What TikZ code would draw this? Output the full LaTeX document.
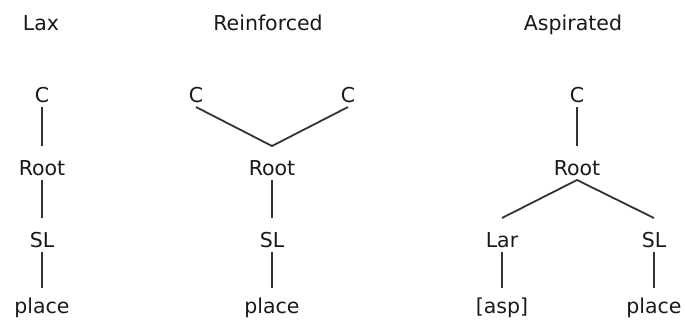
\documentclass[tikz,border=0pt]{standalone}
\usepackage{fontspec}
\setmainfont{DejaVu Sans}
\begin{document}
\begin{tikzpicture}[x=1pt,y=-1pt,
  every node/.style={font=\fontsize{20.5}{24}\selectfont, text=black!90, inner sep=0pt, outer sep=0pt, anchor=base},
  feat/.style={text height=29pt, text depth=5pt},
  leaf/.style={text height=25pt, text depth=5pt},
  title/.style={},
  branch/.style={draw=black!80, line width=1.8pt}]
\useasboundingbox (0,0) rectangle (685,322);

% column titles
\node[title] (tlax) at (41,30.5) {Lax};
\node[title] (trein) at (268,30.5) {Reinforced};
\node[title] (tasp) at (573,30.5) {Aspirated};

% lax consonant
\node[feat] (c1) at (42,102) {C};
\node[feat] (r1) at (42,175) {Root};
\node[feat] (s1) at (42,247) {SL};
\node[leaf] (p1) at (42,313) {place};
\draw[branch] (c1.south) -- (r1.north);
\draw[branch] (r1.south) -- (s1.north);
\draw[branch] (s1.south) -- (p1.north);

% reinforced consonant: two timing slots share one root
\node[feat] (c2a) at (196,102) {C};
\node[feat] (c2b) at (348,102) {C};
\node[feat] (r2) at (272,175) {Root};
\node[feat] (s2) at (272,247) {SL};
\node[leaf] (p2) at (272,313) {place};
\draw[branch] (c2a.south) -- (r2.north) -- (c2b.south);
\draw[branch] (r2.south) -- (s2.north);
\draw[branch] (s2.south) -- (p2.north);

% aspirated consonant: root branches to laryngeal and supralaryngeal
\node[feat] (c3) at (577,102) {C};
\node[feat] (r3) at (577,175) {Root};
\node[feat] (l3) at (502,247) {Lar};
\node[feat] (s3) at (654,247) {SL};
\node[leaf] (a3) at (502,313) {[asp]};
\node[leaf] (p3) at (654,313) {place};
\draw[branch] (c3.south) -- (r3.north);
\draw[branch] (l3.north) -- (r3.south) -- (s3.north);
\draw[branch] (l3.south) -- (a3.north);
\draw[branch] (s3.south) -- (p3.north);
\end{tikzpicture}
\end{document}
